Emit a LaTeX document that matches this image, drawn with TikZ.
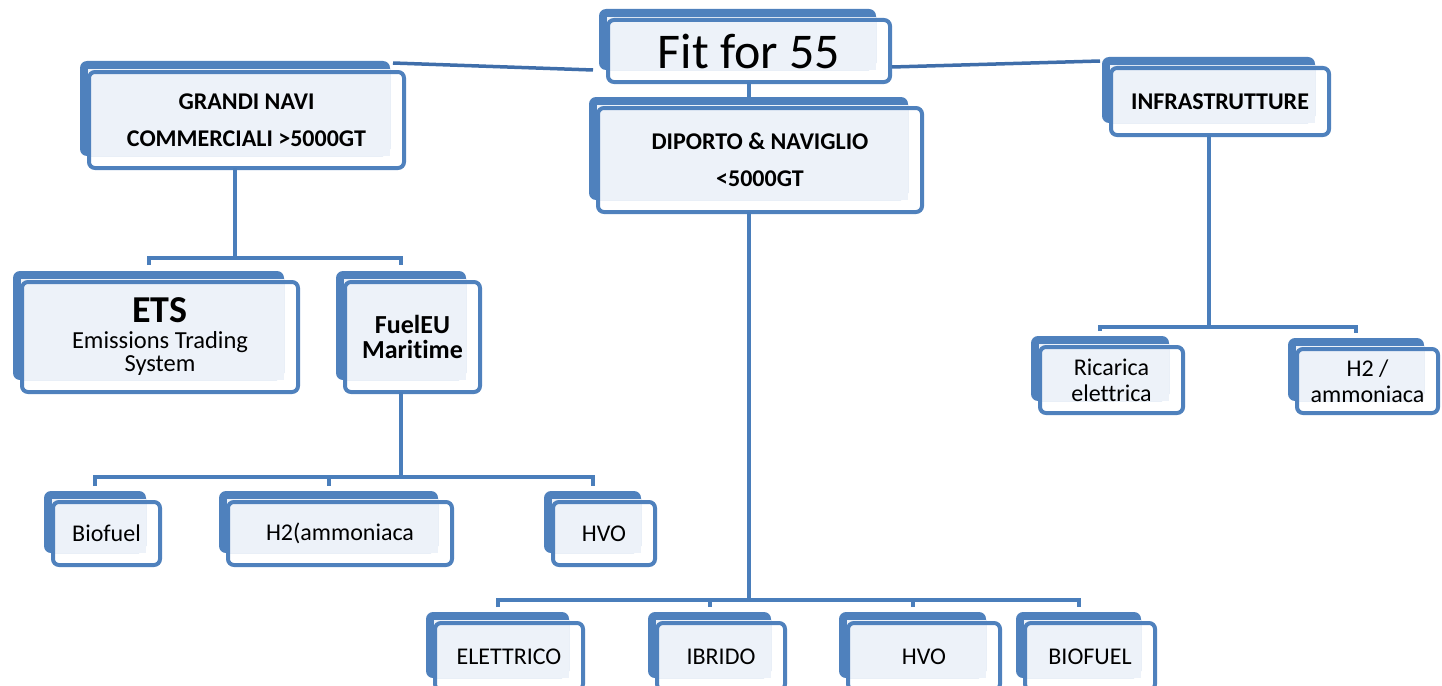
\documentclass[tikz,border=0pt]{standalone}
\usepackage{fontspec}
\setmainfont{Carlito}[Ligatures={NoCommon}]
\definecolor{band}{HTML}{4F81BD}
\definecolor{edge}{HTML}{4F81BD}
\definecolor{lite}{HTML}{EDF2F9}
\definecolor{conn}{HTML}{4A7EBB}
\definecolor{topconn}{HTML}{3F6EAA}
\tikzset{
  backbox/.style={fill=band, rounded corners=7pt, inner sep=0pt, outer sep=0pt},
  frontbox/.style={draw=edge, line width=4pt, rounded corners=6pt, inner sep=0pt, outer sep=0pt,
    align=center, text=black, font=\fontsize{24}{26}\selectfont},
  hdr/.style={font=\bfseries\fontsize{24}{37}\selectfont},
  connline/.style={draw=conn, line width=4pt},
  topline/.style={draw=topconn, line width=3.5pt},
}
% #1 extra style, #2 name, #3..#6 front box x1,y1,x2,y2 (pixels, y down), #7 text
\newcommand\mkbox[7][]{%
  \node[backbox, minimum width={(#5-#3-5)*1pt}, minimum height={(#6-#4-1)*1pt}]
    (#2-b) at ({(#3+#5-23)/2},{(#4+#6-23)/2}) {};
  \fill[lite] ([xshift=8pt,yshift=-8pt]#2-b.north west) rectangle (#2-b.south east);
  \node[frontbox, minimum width={(#5-#3)*1pt}, minimum height={(#6-#4)*1pt}, #1]
    (#2) at ({(#3+#5)/2},{(#4+#6)/2}) {#7};
}
\begin{document}
\begin{tikzpicture}[x=1pt,y=-1pt]
\useasboundingbox (0,0) rectangle (1442,685);
\clip (0,0) rectangle (1442,685);

\mkbox[font=\fontsize{50}{52}\selectfont]{fit}{608}{20}{890}{82}{Fit for 55}
\mkbox[hdr]{grandi}{89}{72}{404}{168}{GRANDI NAVI\\COMMERCIALI >5000GT}
\mkbox[hdr]{diporto}{598}{108}{922}{212}{DIPORTO \& NAVIGLIO\\<5000GT}
\mkbox[hdr]{infra}{1111}{68}{1329}{135}{INFRASTRUTTURE}
\mkbox[font=\fontsize{24.5}{23}\selectfont]{ets}{22}{282}{298}{392}{{\bfseries\fontsize{38}{36}\selectfont ETS}\\[3pt]Emissions Trading\\System}
\mkbox[font=\bfseries\fontsize{26}{25}\selectfont]{fuel}{345}{282}{480}{392}{FuelEU\\Maritime}
\mkbox{bio1}{53}{502}{160}{565}{Biofuel}
\mkbox{h2a}{228}{502}{452}{565}{H2(ammoniaca}
\mkbox{hvo1}{553}{502}{655}{565}{HVO}
\mkbox{ric}{1040}{347}{1183}{413}{Ricarica\\elettrica}
\mkbox{h2b}{1297}{349}{1438}{413}{H2 /\\ammoniaca}
\mkbox{elet}{435}{623}{583}{690}{ELETTRICO}
\mkbox{ibr}{657}{623}{785}{690}{IBRIDO}
\mkbox{hvo2}{848}{623}{1000}{690}{HVO}
\mkbox{bio2}{1025}{623}{1155}{690}{BIOFUEL}

% top connectors
\draw[topline] ([xshift=-15pt,yshift=12pt]fit.south west) -- ([xshift=-11pt,yshift=9pt]grandi.north east);
\draw[topline] ([xshift=2pt,yshift=15pt]fit.south east) -- ([xshift=-11pt,yshift=7pt]infra.north west);
\draw[connline] (fit.south) -- (fit.south |- diporto-b.north);

% buses
\coordinate (gbus) at (0,258);
\coordinate (fbus) at (0,477);
\coordinate (dbus) at (0,600);
\coordinate (ibus) at (0,327);

\draw[connline] (grandi-b.south |- grandi.south) -- (grandi-b.south |- gbus);
\draw[connline] ([yshift=6pt]ets-b.north) -- (ets-b.north |- gbus) -- (fuel-b.north |- gbus) -- ([yshift=6pt]fuel-b.north);

\draw[connline] (fuel-b.south |- fuel.south) -- (fuel-b.south |- fbus);
\draw[connline] ([yshift=5pt]bio1-b.north) -- (bio1-b.north |- fbus) -- (hvo1-b.north |- fbus) -- ([yshift=5pt]hvo1-b.north);
\draw[connline] (h2a-b.north |- fbus) -- ([yshift=5pt]h2a-b.north);

\draw[connline] (diporto-b.south |- diporto.south) -- (diporto-b.south |- dbus);
\draw[connline] ([yshift=5pt]elet-b.north) -- (elet-b.north |- dbus) -- (bio2-b.north |- dbus) -- ([yshift=5pt]bio2-b.north);
\draw[connline] (ibr-b.north |- dbus) -- ([yshift=5pt]ibr-b.north);
\draw[connline] (hvo2-b.north |- dbus) -- ([yshift=5pt]hvo2-b.north);

\draw[connline] (infra-b.south |- infra.south) -- (infra-b.south |- ibus);
\draw[connline] ([yshift=5pt]ric-b.north) -- (ric-b.north |- ibus) -- (h2b-b.north |- ibus) -- ([yshift=5pt]h2b-b.north);
\end{tikzpicture}
\end{document}
